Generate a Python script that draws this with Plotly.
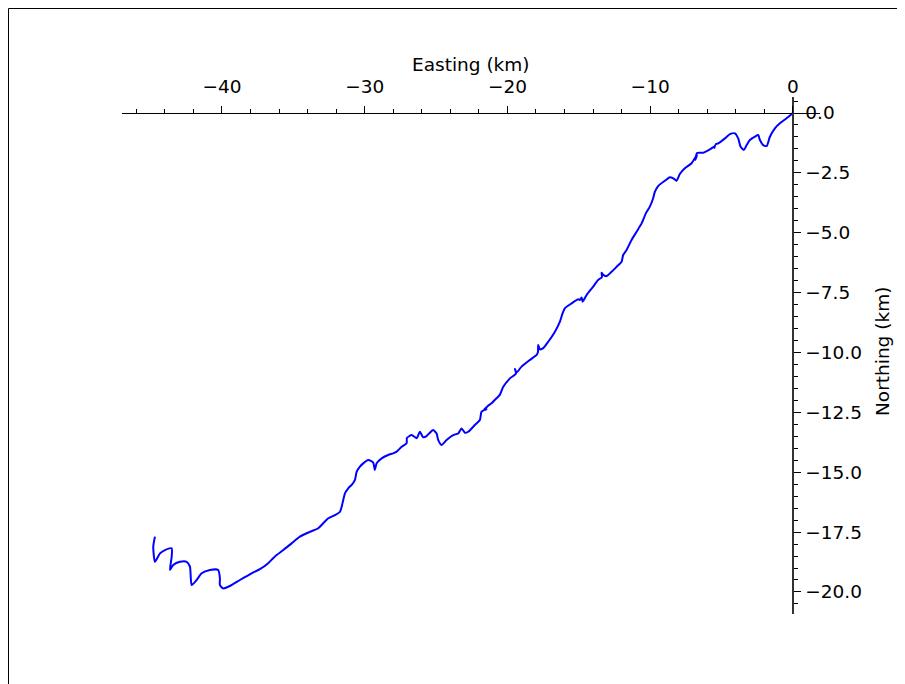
import plotly.graph_objects as go

# Track (km): easting and northing
easting = [0.00, -0.44, -0.91, -1.26, -1.61, -1.84, -2.08, -2.31, -2.43, -2.66,
           -3.01, -3.24, -3.43, -3.66, -3.83, -4.06, -4.41, -4.76, -5.23, -5.40,
           -5.50, -5.46, -5.81, -6.28, -6.72, -6.83, -6.72, -7.10, -7.57, -7.92,
           -8.15, -8.38, -8.62, -8.97, -9.44, -9.67, -9.79, -10.02, -10.30, -10.60,
           -10.95, -11.30, -11.65, -11.89, -12.00, -12.35, -12.70, -13.05, -13.29, -13.40,
           -13.38, -13.64, -13.99, -14.45, -14.73, -14.80, -14.92, -15.04, -15.50, -15.97,
           -16.13, -16.32, -16.67, -17.14, -17.49, -17.72, -17.84, -17.86, -17.95, -18.42,
           -19.01, -19.36, -19.47, -19.40, -19.82, -20.29, -20.53, -20.76, -21.11, -21.37,
           -21.65, -21.46, -21.81, -21.93, -22.28, -22.75, -22.98, -23.21, -23.45, -23.80,
           -24.26, -24.61, -24.85, -24.96, -25.20, -25.43, -25.66, -25.90, -26.13, -26.27,
           -26.36, -26.71, -27.04, -27.06, -27.41, -27.76, -28.00, -28.35, -28.81, -29.16,
           -29.29, -29.40, -29.75, -30.10, -30.33, -30.56, -30.68, -30.91, -31.15, -31.38,
           -31.50, -31.61, -31.73, -32.08, -32.55, -32.90, -33.25, -33.84, -34.54, -35.12,
           -35.70, -36.17, -36.41, -36.76, -37.34, -37.92, -38.74, -39.44, -39.91, -40.14,
           -40.14, -40.26, -40.84, -41.42, -41.77, -42.12, -42.24, -42.47, -42.94, -43.41,
           -43.64, -43.52, -43.52, -43.99, -44.34, -44.69, -44.81, -44.69]
northing = [0.00, -0.22, -0.43, -0.64, -0.99, -1.38, -1.34, -1.13, -0.92, -0.99,
            -1.13, -1.34, -1.54, -1.41, -1.06, -0.85, -0.88, -1.06, -1.27, -1.30,
            -1.45, -1.38, -1.52, -1.66, -1.67, -1.96, -1.75, -2.10, -2.31, -2.55,
            -2.83, -2.73, -2.68, -2.83, -3.05, -3.29, -3.56, -3.91, -4.19, -4.61,
            -4.96, -5.30, -5.72, -5.93, -6.21, -6.42, -6.63, -6.81, -6.76, -6.67,
            -6.85, -6.97, -7.25, -7.60, -7.88, -7.70, -7.81, -7.78, -7.95, -8.15,
            -8.36, -8.71, -9.13, -9.55, -9.82, -9.87, -9.69, -9.98, -10.10, -10.31,
            -10.59, -10.84, -10.69, -10.88, -11.08, -11.43, -11.77, -11.91, -12.12, -12.23,
            -12.40, -12.37, -12.47, -12.82, -13.03, -13.31, -13.35, -13.17, -13.38, -13.45,
            -13.65, -13.86, -13.65, -13.38, -13.24, -13.35, -13.49, -13.54, -13.31, -13.49,
            -13.58, -13.45, -13.57, -13.79, -13.94, -14.14, -14.21, -14.28, -14.42, -14.63,
            -14.91, -14.60, -14.49, -14.63, -14.77, -14.98, -15.32, -15.53, -15.67, -15.88,
            -16.16, -16.44, -16.65, -16.79, -16.92, -17.13, -17.34, -17.49, -17.69, -17.97,
            -18.25, -18.46, -18.59, -18.80, -19.05, -19.22, -19.50, -19.75, -19.85, -19.71,
            -19.43, -19.08, -19.08, -19.22, -19.50, -19.71, -18.94, -18.74, -18.74, -18.87,
            -19.08, -18.53, -18.18, -18.25, -18.39, -18.74, -18.11, -17.69]

x_ticks = [-40, -30, -20, -10, 0]
x_tick_text = ["\u221240", "\u221230", "\u221220", "\u221210", "0"]
y_ticks = [0.0, -2.5, -5.0, -7.5, -10.0, -12.5, -15.0, -17.5, -20.0]
y_tick_text = ["0.0", "\u22122.5", "\u22125.0", "\u22127.5", "\u221210.0",
               "\u221212.5", "\u221215.0", "\u221217.5", "\u221220.0"]

x_range = [-47.0, 1.9]
y_range = [-20.92, 0.668]

FONT = dict(family="DejaVu Sans", size=18.5, color="#000000")

fig = go.Figure()
fig.add_trace(go.Scatter(x=easting, y=northing, mode="lines",
                         line=dict(color="#0000ff", width=2.0, shape="spline", smoothing=0.6),
                         showlegend=False, hoverinfo="skip"))

# spines cross at the origin
x_pos = (0 - y_range[0]) / (y_range[1] - y_range[0])
y_pos = (0 - x_range[0]) / (x_range[1] - x_range[0])

# plot area in figure pixels: left 114, width 698, top 89, height 517
L, T, W, H = 114, 89, 698, 517


def px(fx):
    return (fx - L) / W


def py(fy):
    return (T + H - fy) / H


fig.update_layout(
    width=905, height=684,
    margin=dict(l=L, r=905 - L - W, t=T, b=684 - T - H),
    paper_bgcolor="white", plot_bgcolor="white",
    font=FONT,
    xaxis=dict(range=x_range, side="top", anchor="free", position=x_pos,
               showgrid=False, zeroline=False, showline=True,
               linecolor="#000000", linewidth=1.3,
               tickmode="array", tickvals=x_ticks, ticktext=x_tick_text,
               ticks="outside", ticklen=7, tickwidth=1.2, tickcolor="#000000",
               ticklabelstandoff=5,
               minor=dict(dtick=2, tick0=0, ticks="outside", ticklen=4,
                          tickwidth=1.0, tickcolor="#000000", showgrid=False),
               tickfont=FONT, fixedrange=True),
    yaxis=dict(range=y_range, side="right", anchor="free", position=y_pos,
               showgrid=False, zeroline=False, showline=True,
               linecolor="#333333", linewidth=1.5,
               tickmode="array", tickvals=y_ticks, ticktext=y_tick_text,
               ticks="outside", ticklen=7, tickwidth=1.2, tickcolor="#000000",
               ticklabelstandoff=1,
               minor=dict(dtick=0.5, tick0=0, ticks="outside", ticklen=4,
                          tickwidth=1.0, tickcolor="#000000", showgrid=False),
               tickfont=FONT, fixedrange=True),
    annotations=[
        dict(text="Easting (km)", xref="paper", yref="paper",
             x=px(463), y=py(57), showarrow=False,
             xanchor="center", yanchor="middle", font=FONT),
        dict(text="Northing (km)", xref="paper", yref="paper",
             x=px(874), y=py(344), showarrow=False,
             textangle=-90, xanchor="center", yanchor="middle", font=FONT),
    ],
    shapes=[
        dict(type="line", xref="paper", yref="paper",
             x0=px(0.5), x1=px(0.5), y0=py(0.5), y1=py(700),
             line=dict(color="#000000", width=1)),
        dict(type="line", xref="paper", yref="paper",
             x0=px(0.5), x1=px(920), y0=py(0.5), y1=py(0.5),
             line=dict(color="#000000", width=1)),
    ],
)

fig.write_html("out.html")
